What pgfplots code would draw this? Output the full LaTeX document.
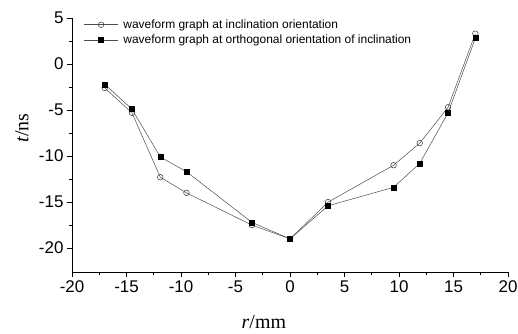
\documentclass[border=0pt]{standalone}
\usepackage{pgfplots}
\pgfplotsset{compat=1.18}
\usepackage{fontspec}
\setmainfont{Liberation Serif}
\newfontfamily\arial{Liberation Sans}
\begin{document}
\begin{tikzpicture}[x=1bp,y=1bp]
\useasboundingbox (-72,-61) rectangle (446,272);
\begin{axis}[
  at={(0,0)}, anchor=south west,
  scale only axis, width=436bp, height=254bp,
  xmin=-20, xmax=20, ymin=-22.6, ymax=5,
  axis x line=bottom, axis y line=left,
  axis line style={-, line width=0.6bp, black},
  xtick={-20,-15,...,20}, ytick={-20,-15,...,5},
  minor x tick num=1, minor y tick num=1,
  tick align=outside, major tick length=5bp, minor tick length=3bp,
  tick style={black, line width=0.6bp},
  ticklabel style={font=\arial\fontsize{17}{17}\selectfont},
  /pgf/number format/assume math mode=true,
  xlabel={\textit{r}/mm}, ylabel={\textit{t}/ns},
  label style={font=\fontsize{20}{20}\selectfont},
  xlabel style={at={(axis description cs:0.44,-0.197)}, anchor=center},
  ylabel style={at={(axis description cs:-0.115,0.567)}, anchor=center},
  legend style={at={(axis description cs:0.02,1.01)}, anchor=north west,
    draw=none, fill=none, font=\arial\fontsize{12}{13}\selectfont,
    row sep=1bp},
  legend cell align=left,
  legend image code/.code={\draw[mark repeat=2,mark phase=2,#1] plot coordinates {(0bp,0bp) (17bp,0bp) (34bp,0bp)}; \path (37bp,0bp);},
]
\addplot[black!70, line width=0.5bp, mark=o, mark size=2.8bp,
  mark options={draw=black!80, fill=white, line width=0.5bp}] coordinates {
  (-17,-2.6) (-14.5,-5.3) (-11.9,-12.3) (-9.5,-14.0) (-3.5,-17.5) (0,-19.0)
  (3.5,-15.0) (9.5,-11.0) (11.9,-8.6) (14.5,-4.7) (17,3.3)};
\addlegendentry{waveform graph at inclination orientation}
\addplot[black!70, line width=0.5bp, mark=square*, mark size=2.5bp,
  mark options={draw=black, fill=black}] coordinates {
  (-17,-2.2) (-14.5,-4.9) (-11.9,-10.1) (-9.5,-11.7) (-3.5,-17.2) (0,-19.0)
  (3.5,-15.4) (9.5,-13.4) (11.9,-10.8) (14.5,-5.3) (17,2.8)};
\addlegendentry{waveform graph at orthogonal orientation of inclination}
\end{axis}
\end{tikzpicture}
\end{document}
